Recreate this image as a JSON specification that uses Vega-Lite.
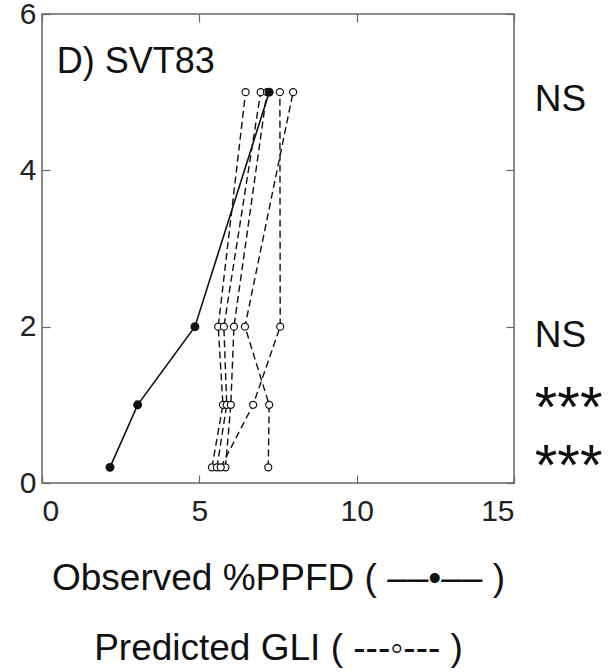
{
  "$schema": "https://vega.github.io/schema/vega-lite/v6.json",
  "width": 472,
  "height": 469,
  "autosize": "none",
  "padding": {"left": 42, "top": 14, "right": 94, "bottom": 189},
  "background": "white",
  "config": {
    "font": "Liberation Sans",
    "view": {"stroke": "#666", "strokeWidth": 1.5},
    "axis": {
      "domain": false,
      "grid": false,
      "tickColor": "#666",
      "tickWidth": 1.2,
      "tickSize": -8,
      "labelFont": "Liberation Sans",
      "labelFontSize": 30,
      "labelColor": "#222",
      "titleFont": "Liberation Sans",
      "titleColor": "#111"
    }
  },
  "datasets": {
    "observed": [
      {"x": 2.16, "y": 0.2},
      {"x": 3.04, "y": 1},
      {"x": 4.86, "y": 2},
      {"x": 7.22, "y": 5}
    ],
    "predicted": [
      {"series": "P1", "x": 6.47, "y": 5}, {"series": "P1", "x": 5.6, "y": 2}, {"series": "P1", "x": 5.75, "y": 1}, {"series": "P1", "x": 5.4, "y": 0.2},
      {"series": "P2", "x": 6.95, "y": 5}, {"series": "P2", "x": 5.78, "y": 2}, {"series": "P2", "x": 5.87, "y": 1}, {"series": "P2", "x": 5.56, "y": 0.2},
      {"series": "P3", "x": 7.15, "y": 5}, {"series": "P3", "x": 6.1, "y": 2}, {"series": "P3", "x": 6.0, "y": 1}, {"series": "P3", "x": 5.83, "y": 0.2},
      {"series": "P4", "x": 7.98, "y": 5}, {"series": "P4", "x": 6.45, "y": 2}, {"series": "P4", "x": 7.22, "y": 1}, {"series": "P4", "x": 7.19, "y": 0.2},
      {"series": "P5", "x": 7.56, "y": 5}, {"series": "P5", "x": 7.57, "y": 2}, {"series": "P5", "x": 6.71, "y": 1}, {"series": "P5", "x": 5.68, "y": 0.2}
    ],
    "panel": [{"x": 0.47, "y": 5.245, "label": "D) SVT83"}],
    "ns": [{"x": 15.66, "y": 4.9, "label": "NS"}, {"x": 15.66, "y": 1.88, "label": "NS"}],
    "stars": [{"x": 15.66, "y": 1.1, "label": "***"}, {"x": 15.66, "y": 0.36, "label": "***"}]
  },
  "layer": [
    {
      "data": {"name": "predicted"},
      "mark": {"type": "line", "color": "#111", "strokeWidth": 1.4, "strokeDash": [7, 4]},
      "encoding": {
        "x": {"field": "x", "type": "quantitative", "scale": {"domain": [0, 15], "nice": false},
          "axis": {"orient": "bottom", "values": [0, 5, 10, 15], "labelPadding": 21, "title": ["Observed %PPFD ( ––•–– )", "Predicted GLI ( ---◦--- )"], "titleFontSize": 37, "titleFontWeight": "normal", "titleLineHeight": 70, "titlePadding": 34}},
        "y": {"field": "y", "type": "quantitative", "scale": {"domain": [0, 6], "nice": false},
          "axis": {"orient": "left", "values": [0, 2, 4, 6], "labelPadding": 14, "title": null}},
        "detail": {"field": "series"},
        "order": {"field": "y"}
      }
    },
    {
      "data": {"name": "observed"},
      "mark": {"type": "line", "color": "#111", "strokeWidth": 1.6},
      "encoding": {
        "x": {"field": "x", "type": "quantitative", "axis": {"orient": "top", "values": [0, 5, 10, 15], "labels": false, "title": null}},
        "y": {"field": "y", "type": "quantitative", "axis": {"orient": "right", "values": [0, 2, 4, 6], "labels": false, "title": null}},
        "order": {"field": "y"}
      }
    },
    {
      "data": {"name": "predicted"},
      "mark": {"type": "point", "filled": false, "fill": "white", "fillOpacity": 1, "stroke": "#111", "strokeWidth": 1.2, "opacity": 1, "size": 50},
      "encoding": {
        "x": {"field": "x", "type": "quantitative", "axis": null},
        "y": {"field": "y", "type": "quantitative", "axis": null}
      }
    },
    {
      "data": {"name": "observed"},
      "mark": {"type": "point", "filled": true, "color": "#111", "opacity": 1, "size": 80},
      "encoding": {
        "x": {"field": "x", "type": "quantitative", "axis": null},
        "y": {"field": "y", "type": "quantitative", "axis": null}
      }
    },
    {
      "data": {"name": "panel"},
      "mark": {"type": "text", "align": "left", "baseline": "alphabetic", "fontSize": 36, "color": "#111"},
      "encoding": {
        "x": {"field": "x", "type": "quantitative", "axis": null},
        "y": {"field": "y", "type": "quantitative", "axis": null},
        "text": {"field": "label"}
      }
    },
    {
      "data": {"name": "ns"},
      "mark": {"type": "text", "align": "left", "baseline": "middle", "fontSize": 37, "color": "#111"},
      "encoding": {
        "x": {"field": "x", "type": "quantitative", "axis": null},
        "y": {"field": "y", "type": "quantitative", "axis": null},
        "text": {"field": "label"}
      }
    },
    {
      "data": {"name": "stars"},
      "mark": {"type": "text", "align": "left", "baseline": "alphabetic", "dy": 30, "fontSize": 58, "color": "#111"},
      "encoding": {
        "x": {"field": "x", "type": "quantitative", "axis": null},
        "y": {"field": "y", "type": "quantitative", "axis": null},
        "text": {"field": "label"}
      }
    }
  ],
  "resolve": {"axis": {"x": "independent", "y": "independent"}}
}
